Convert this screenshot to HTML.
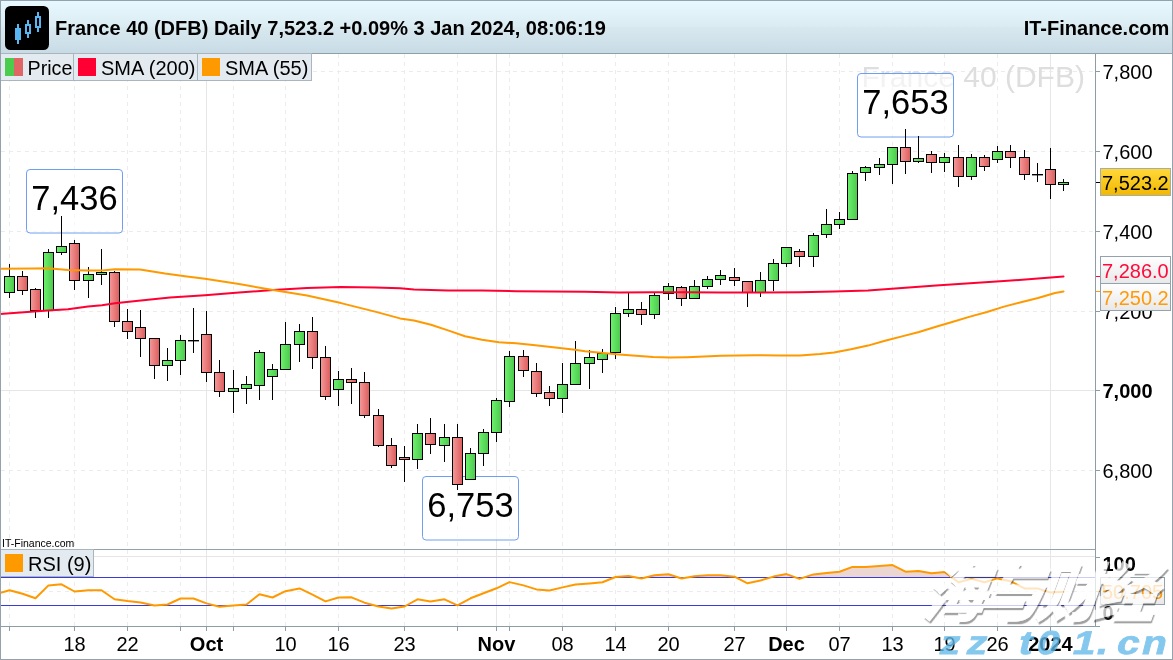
<!DOCTYPE html>
<html><head><meta charset="utf-8"><title>France 40 (DFB) Daily</title>
<style>html,body{margin:0;padding:0;background:#fff}svg{display:block}</style></head>
<body>
<svg width="1173" height="660" viewBox="0 0 1173 660" font-family="Liberation Sans, Arial, sans-serif">
<defs>
<linearGradient id="hd" x1="0" y1="0" x2="0" y2="1"><stop offset="0" stop-color="#e8f9ff"/><stop offset="0.5" stop-color="#dbebf2"/><stop offset="0.52" stop-color="#d8e8ef"/><stop offset="1" stop-color="#c8dbe5"/></linearGradient>
<linearGradient id="gg" x1="0" y1="0" x2="1" y2="0"><stop offset="0" stop-color="#6ef26e"/><stop offset="1" stop-color="#4cc84c"/></linearGradient>
<linearGradient id="rg" x1="0" y1="0" x2="1" y2="0"><stop offset="0" stop-color="#f59a9a"/><stop offset="1" stop-color="#dc5c5c"/></linearGradient>
<linearGradient id="yl" x1="0" y1="0" x2="0" y2="1"><stop offset="0" stop-color="#ffd83a"/><stop offset="1" stop-color="#f2b800"/></linearGradient>
<linearGradient id="tg" x1="0" y1="0" x2="0" y2="1"><stop offset="0" stop-color="#ffffff"/><stop offset="1" stop-color="#e8e8e8"/></linearGradient>
<clipPath id="over"><rect x="0" y="550" width="1095" height="27.5"/></clipPath>
<filter id="sh" x="-10%" y="-10%" width="130%" height="130%"><feGaussianBlur stdDeviation="0.6"/></filter>
</defs>
<rect x="0" y="0" width="1173" height="660" fill="#ffffff"/>
<line x1="9.5" y1="54" x2="9.5" y2="626" stroke="#ececec" stroke-width="1" stroke-dasharray="4 4"/>
<line x1="74.5" y1="54" x2="74.5" y2="626" stroke="#ececec" stroke-width="1" stroke-dasharray="4 4"/>
<line x1="127.5" y1="54" x2="127.5" y2="626" stroke="#ececec" stroke-width="1" stroke-dasharray="4 4"/>
<line x1="180.5" y1="54" x2="180.5" y2="626" stroke="#ececec" stroke-width="1" stroke-dasharray="4 4"/>
<line x1="233.5" y1="54" x2="233.5" y2="626" stroke="#ececec" stroke-width="1" stroke-dasharray="4 4"/>
<line x1="285.5" y1="54" x2="285.5" y2="626" stroke="#ececec" stroke-width="1" stroke-dasharray="4 4"/>
<line x1="338.5" y1="54" x2="338.5" y2="626" stroke="#ececec" stroke-width="1" stroke-dasharray="4 4"/>
<line x1="404.5" y1="54" x2="404.5" y2="626" stroke="#ececec" stroke-width="1" stroke-dasharray="4 4"/>
<line x1="457.5" y1="54" x2="457.5" y2="626" stroke="#ececec" stroke-width="1" stroke-dasharray="4 4"/>
<line x1="509.5" y1="54" x2="509.5" y2="626" stroke="#ececec" stroke-width="1" stroke-dasharray="4 4"/>
<line x1="562.5" y1="54" x2="562.5" y2="626" stroke="#ececec" stroke-width="1" stroke-dasharray="4 4"/>
<line x1="615.5" y1="54" x2="615.5" y2="626" stroke="#ececec" stroke-width="1" stroke-dasharray="4 4"/>
<line x1="668.5" y1="54" x2="668.5" y2="626" stroke="#ececec" stroke-width="1" stroke-dasharray="4 4"/>
<line x1="734.5" y1="54" x2="734.5" y2="626" stroke="#ececec" stroke-width="1" stroke-dasharray="4 4"/>
<line x1="839.5" y1="54" x2="839.5" y2="626" stroke="#ececec" stroke-width="1" stroke-dasharray="4 4"/>
<line x1="892.5" y1="54" x2="892.5" y2="626" stroke="#ececec" stroke-width="1" stroke-dasharray="4 4"/>
<line x1="944.5" y1="54" x2="944.5" y2="626" stroke="#ececec" stroke-width="1" stroke-dasharray="4 4"/>
<line x1="997.5" y1="54" x2="997.5" y2="626" stroke="#ececec" stroke-width="1" stroke-dasharray="4 4"/>
<line x1="206.5" y1="53" x2="206.5" y2="626" stroke="#e6e6e6" stroke-width="1"/>
<line x1="496.5" y1="53" x2="496.5" y2="626" stroke="#e6e6e6" stroke-width="1"/>
<line x1="786.5" y1="53" x2="786.5" y2="626" stroke="#e6e6e6" stroke-width="1"/>
<line x1="1050.5" y1="53" x2="1050.5" y2="626" stroke="#e6e6e6" stroke-width="1"/>
<line x1="1" y1="71.5" x2="1095" y2="71.5" stroke="#ececec" stroke-width="1" stroke-dasharray="4 4"/>
<line x1="1" y1="151.5" x2="1095" y2="151.5" stroke="#ececec" stroke-width="1" stroke-dasharray="4 4"/>
<line x1="1" y1="231.5" x2="1095" y2="231.5" stroke="#ececec" stroke-width="1" stroke-dasharray="4 4"/>
<line x1="1" y1="311.5" x2="1095" y2="311.5" stroke="#ececec" stroke-width="1" stroke-dasharray="4 4"/>
<line x1="1" y1="390.5" x2="1095" y2="390.5" stroke="#e6e6e6" stroke-width="1"/>
<line x1="1" y1="470.5" x2="1095" y2="470.5" stroke="#ececec" stroke-width="1" stroke-dasharray="4 4"/>
<line x1="1" y1="556.5" x2="1095" y2="556.5" stroke="#e6e6e6" stroke-width="1"/>
<line x1="1" y1="591.5" x2="1095" y2="591.5" stroke="#ececec" stroke-width="1" stroke-dasharray="4 4"/>
<text x="861.5" y="87" font-size="30" fill="#dedede">France 40 (DFB)</text>
<rect x="26.5" y="169.5" width="96" height="63.5" rx="3.5" fill="#ffffff" fill-opacity="0.6" stroke="#6f9ff2" stroke-width="1"/>
<text x="74.5" y="209.5" font-size="34.5" text-anchor="middle" fill="#000">7,436</text>
<rect x="857.5" y="73.5" width="96" height="63.5" rx="3.5" fill="#ffffff" fill-opacity="0.6" stroke="#6f9ff2" stroke-width="1"/>
<text x="905.5" y="113.5" font-size="34.5" text-anchor="middle" fill="#000">7,653</text>
<rect x="422.5" y="476.5" width="96" height="63.5" rx="3.5" fill="#ffffff" fill-opacity="0.6" stroke="#6f9ff2" stroke-width="1"/>
<text x="470.5" y="516.5" font-size="34.5" text-anchor="middle" fill="#000">6,753</text>
<rect x="9" y="264" width="1" height="34" fill="#000"/>
<rect x="4.5" y="276.5" width="10" height="16" fill="url(#gg)" stroke="#000" stroke-width="1"/>
<rect x="22" y="271" width="1" height="24" fill="#000"/>
<rect x="17.5" y="276.5" width="10" height="14" fill="url(#rg)" stroke="#000" stroke-width="1"/>
<rect x="35" y="288" width="1" height="30" fill="#000"/>
<rect x="30.5" y="289.5" width="10" height="21" fill="url(#rg)" stroke="#000" stroke-width="1"/>
<rect x="48" y="249" width="1" height="69" fill="#000"/>
<rect x="43.5" y="252.5" width="10" height="58" fill="url(#gg)" stroke="#000" stroke-width="1"/>
<rect x="61" y="216" width="1" height="39" fill="#000"/>
<rect x="56.5" y="246.5" width="10" height="6" fill="url(#gg)" stroke="#000" stroke-width="1"/>
<rect x="74" y="240" width="1" height="50" fill="#000"/>
<rect x="69.5" y="243.5" width="10" height="37" fill="url(#rg)" stroke="#000" stroke-width="1"/>
<rect x="88" y="267" width="1" height="31" fill="#000"/>
<rect x="83.5" y="274.5" width="10" height="6" fill="url(#gg)" stroke="#000" stroke-width="1"/>
<rect x="101" y="249" width="1" height="36" fill="#000"/>
<rect x="96.5" y="272.5" width="10" height="2" fill="url(#gg)" stroke="#000" stroke-width="1"/>
<rect x="114" y="271" width="1" height="56" fill="#000"/>
<rect x="109.5" y="272.5" width="10" height="49" fill="url(#rg)" stroke="#000" stroke-width="1"/>
<rect x="127" y="309" width="1" height="30" fill="#000"/>
<rect x="122.5" y="321.5" width="10" height="10" fill="url(#rg)" stroke="#000" stroke-width="1"/>
<rect x="140" y="310" width="1" height="47" fill="#000"/>
<rect x="135.5" y="327.5" width="10" height="11" fill="url(#rg)" stroke="#000" stroke-width="1"/>
<rect x="154" y="338" width="1" height="41" fill="#000"/>
<rect x="149.5" y="338.5" width="10" height="27" fill="url(#rg)" stroke="#000" stroke-width="1"/>
<rect x="167" y="348" width="1" height="33" fill="#000"/>
<rect x="162.5" y="360.5" width="10" height="5" fill="url(#gg)" stroke="#000" stroke-width="1"/>
<rect x="180" y="335" width="1" height="40" fill="#000"/>
<rect x="175.5" y="340.5" width="10" height="20" fill="url(#gg)" stroke="#000" stroke-width="1"/>
<rect x="193" y="308" width="1" height="45" fill="#000"/>
<rect x="188" y="340" width="11" height="1.4" fill="#000"/>
<rect x="206" y="311" width="1" height="71" fill="#000"/>
<rect x="201.5" y="334.5" width="10" height="38" fill="url(#rg)" stroke="#000" stroke-width="1"/>
<rect x="219" y="360" width="1" height="37" fill="#000"/>
<rect x="214.5" y="372.5" width="10" height="19" fill="url(#rg)" stroke="#000" stroke-width="1"/>
<rect x="233" y="370" width="1" height="43" fill="#000"/>
<rect x="228.5" y="388.5" width="10" height="3" fill="url(#gg)" stroke="#000" stroke-width="1"/>
<rect x="246" y="376" width="1" height="28" fill="#000"/>
<rect x="241.5" y="384.5" width="10" height="4" fill="url(#gg)" stroke="#000" stroke-width="1"/>
<rect x="259" y="350" width="1" height="50" fill="#000"/>
<rect x="254.5" y="352.5" width="10" height="33" fill="url(#gg)" stroke="#000" stroke-width="1"/>
<rect x="272" y="364" width="1" height="36" fill="#000"/>
<rect x="267.5" y="369.5" width="10" height="7" fill="url(#gg)" stroke="#000" stroke-width="1"/>
<rect x="285" y="322" width="1" height="48" fill="#000"/>
<rect x="280.5" y="344.5" width="10" height="25" fill="url(#gg)" stroke="#000" stroke-width="1"/>
<rect x="299" y="324" width="1" height="38" fill="#000"/>
<rect x="294.5" y="331.5" width="10" height="13" fill="url(#gg)" stroke="#000" stroke-width="1"/>
<rect x="312" y="317" width="1" height="52" fill="#000"/>
<rect x="307.5" y="331.5" width="10" height="26" fill="url(#rg)" stroke="#000" stroke-width="1"/>
<rect x="325" y="346" width="1" height="54" fill="#000"/>
<rect x="320.5" y="357.5" width="10" height="39" fill="url(#rg)" stroke="#000" stroke-width="1"/>
<rect x="338" y="371" width="1" height="35" fill="#000"/>
<rect x="333.5" y="379.5" width="10" height="10" fill="url(#gg)" stroke="#000" stroke-width="1"/>
<rect x="351" y="368" width="1" height="36" fill="#000"/>
<rect x="346.5" y="379.5" width="10" height="3" fill="url(#rg)" stroke="#000" stroke-width="1"/>
<rect x="364" y="372" width="1" height="46" fill="#000"/>
<rect x="359.5" y="382.5" width="10" height="33" fill="url(#rg)" stroke="#000" stroke-width="1"/>
<rect x="378" y="409" width="1" height="38" fill="#000"/>
<rect x="373.5" y="415.5" width="10" height="30" fill="url(#rg)" stroke="#000" stroke-width="1"/>
<rect x="391" y="438" width="1" height="30" fill="#000"/>
<rect x="386.5" y="445.5" width="10" height="20" fill="url(#rg)" stroke="#000" stroke-width="1"/>
<rect x="404" y="446" width="1" height="36" fill="#000"/>
<rect x="399.5" y="457.5" width="10" height="2" fill="url(#rg)" stroke="#000" stroke-width="1"/>
<rect x="417" y="424" width="1" height="45" fill="#000"/>
<rect x="412.5" y="433.5" width="10" height="26" fill="url(#gg)" stroke="#000" stroke-width="1"/>
<rect x="430" y="418" width="1" height="36" fill="#000"/>
<rect x="425.5" y="433.5" width="10" height="11" fill="url(#rg)" stroke="#000" stroke-width="1"/>
<rect x="444" y="424" width="1" height="38" fill="#000"/>
<rect x="439.5" y="437.5" width="10" height="8" fill="url(#gg)" stroke="#000" stroke-width="1"/>
<rect x="457" y="424" width="1" height="66" fill="#000"/>
<rect x="452.5" y="437.5" width="10" height="47" fill="url(#rg)" stroke="#000" stroke-width="1"/>
<rect x="470" y="448" width="1" height="32" fill="#000"/>
<rect x="465.5" y="453.5" width="10" height="26" fill="url(#gg)" stroke="#000" stroke-width="1"/>
<rect x="483" y="429" width="1" height="37" fill="#000"/>
<rect x="478.5" y="432.5" width="10" height="21" fill="url(#gg)" stroke="#000" stroke-width="1"/>
<rect x="496" y="398" width="1" height="44" fill="#000"/>
<rect x="491.5" y="400.5" width="10" height="32" fill="url(#gg)" stroke="#000" stroke-width="1"/>
<rect x="509" y="351" width="1" height="56" fill="#000"/>
<rect x="504.5" y="356.5" width="10" height="45" fill="url(#gg)" stroke="#000" stroke-width="1"/>
<rect x="523" y="350" width="1" height="27" fill="#000"/>
<rect x="518.5" y="356.5" width="10" height="14" fill="url(#rg)" stroke="#000" stroke-width="1"/>
<rect x="536" y="363" width="1" height="34" fill="#000"/>
<rect x="531.5" y="371.5" width="10" height="22" fill="url(#rg)" stroke="#000" stroke-width="1"/>
<rect x="549" y="386" width="1" height="20" fill="#000"/>
<rect x="544.5" y="392.5" width="10" height="6" fill="url(#rg)" stroke="#000" stroke-width="1"/>
<rect x="562" y="363" width="1" height="50" fill="#000"/>
<rect x="557.5" y="384.5" width="10" height="14" fill="url(#gg)" stroke="#000" stroke-width="1"/>
<rect x="575" y="341" width="1" height="44" fill="#000"/>
<rect x="570.5" y="363.5" width="10" height="21" fill="url(#gg)" stroke="#000" stroke-width="1"/>
<rect x="589" y="350" width="1" height="39" fill="#000"/>
<rect x="584.5" y="357.5" width="10" height="6" fill="url(#gg)" stroke="#000" stroke-width="1"/>
<rect x="602" y="349" width="1" height="24" fill="#000"/>
<rect x="597.5" y="353.5" width="10" height="6" fill="url(#gg)" stroke="#000" stroke-width="1"/>
<rect x="615" y="307" width="1" height="52" fill="#000"/>
<rect x="610.5" y="313.5" width="10" height="39" fill="url(#gg)" stroke="#000" stroke-width="1"/>
<rect x="628" y="292" width="1" height="25" fill="#000"/>
<rect x="623.5" y="309.5" width="10" height="4" fill="url(#gg)" stroke="#000" stroke-width="1"/>
<rect x="641" y="302" width="1" height="23" fill="#000"/>
<rect x="636.5" y="309.5" width="10" height="5" fill="url(#rg)" stroke="#000" stroke-width="1"/>
<rect x="654" y="292" width="1" height="27" fill="#000"/>
<rect x="649.5" y="295.5" width="10" height="19" fill="url(#gg)" stroke="#000" stroke-width="1"/>
<rect x="668" y="283" width="1" height="17" fill="#000"/>
<rect x="663.5" y="286.5" width="10" height="7" fill="url(#gg)" stroke="#000" stroke-width="1"/>
<rect x="681" y="286" width="1" height="20" fill="#000"/>
<rect x="676.5" y="287.5" width="10" height="11" fill="url(#rg)" stroke="#000" stroke-width="1"/>
<rect x="694" y="280" width="1" height="19" fill="#000"/>
<rect x="689.5" y="286.5" width="10" height="12" fill="url(#gg)" stroke="#000" stroke-width="1"/>
<rect x="707" y="276" width="1" height="13" fill="#000"/>
<rect x="702.5" y="279.5" width="10" height="7" fill="url(#gg)" stroke="#000" stroke-width="1"/>
<rect x="720" y="270" width="1" height="15" fill="#000"/>
<rect x="715.5" y="275.5" width="10" height="4" fill="url(#gg)" stroke="#000" stroke-width="1"/>
<rect x="734" y="268" width="1" height="18" fill="#000"/>
<rect x="729.5" y="277.5" width="10" height="3" fill="url(#rg)" stroke="#000" stroke-width="1"/>
<rect x="747" y="281" width="1" height="26" fill="#000"/>
<rect x="742.5" y="281.5" width="10" height="11" fill="url(#rg)" stroke="#000" stroke-width="1"/>
<rect x="760" y="272" width="1" height="25" fill="#000"/>
<rect x="755.5" y="280.5" width="10" height="12" fill="url(#gg)" stroke="#000" stroke-width="1"/>
<rect x="773" y="259" width="1" height="32" fill="#000"/>
<rect x="768.5" y="263.5" width="10" height="17" fill="url(#gg)" stroke="#000" stroke-width="1"/>
<rect x="786" y="247" width="1" height="20" fill="#000"/>
<rect x="781.5" y="247.5" width="10" height="16" fill="url(#gg)" stroke="#000" stroke-width="1"/>
<rect x="799" y="249" width="1" height="18" fill="#000"/>
<rect x="794.5" y="251.5" width="10" height="5" fill="url(#rg)" stroke="#000" stroke-width="1"/>
<rect x="813" y="233" width="1" height="34" fill="#000"/>
<rect x="808.5" y="235.5" width="10" height="21" fill="url(#gg)" stroke="#000" stroke-width="1"/>
<rect x="826" y="209" width="1" height="29" fill="#000"/>
<rect x="821.5" y="224.5" width="10" height="10" fill="url(#gg)" stroke="#000" stroke-width="1"/>
<rect x="839" y="212" width="1" height="17" fill="#000"/>
<rect x="834.5" y="219.5" width="10" height="5" fill="url(#gg)" stroke="#000" stroke-width="1"/>
<rect x="852" y="171" width="1" height="49" fill="#000"/>
<rect x="847.5" y="173.5" width="10" height="46" fill="url(#gg)" stroke="#000" stroke-width="1"/>
<rect x="865" y="166" width="1" height="15" fill="#000"/>
<rect x="860.5" y="167.5" width="10" height="5" fill="url(#gg)" stroke="#000" stroke-width="1"/>
<rect x="879" y="158" width="1" height="17" fill="#000"/>
<rect x="874.5" y="164.5" width="10" height="3" fill="url(#gg)" stroke="#000" stroke-width="1"/>
<rect x="892" y="147" width="1" height="37" fill="#000"/>
<rect x="887.5" y="147.5" width="10" height="17" fill="url(#gg)" stroke="#000" stroke-width="1"/>
<rect x="905" y="129" width="1" height="45" fill="#000"/>
<rect x="900.5" y="147.5" width="10" height="14" fill="url(#rg)" stroke="#000" stroke-width="1"/>
<rect x="918" y="136" width="1" height="27" fill="#000"/>
<rect x="913.5" y="158.5" width="10" height="3" fill="url(#gg)" stroke="#000" stroke-width="1"/>
<rect x="931" y="151" width="1" height="22" fill="#000"/>
<rect x="926.5" y="154.5" width="10" height="8" fill="url(#rg)" stroke="#000" stroke-width="1"/>
<rect x="944" y="153" width="1" height="19" fill="#000"/>
<rect x="939.5" y="157.5" width="10" height="5" fill="url(#gg)" stroke="#000" stroke-width="1"/>
<rect x="958" y="145" width="1" height="42" fill="#000"/>
<rect x="953.5" y="157.5" width="10" height="19" fill="url(#rg)" stroke="#000" stroke-width="1"/>
<rect x="971" y="154" width="1" height="26" fill="#000"/>
<rect x="966.5" y="157.5" width="10" height="19" fill="url(#gg)" stroke="#000" stroke-width="1"/>
<rect x="984" y="155" width="1" height="16" fill="#000"/>
<rect x="979.5" y="157.5" width="10" height="9" fill="url(#rg)" stroke="#000" stroke-width="1"/>
<rect x="997" y="146" width="1" height="17" fill="#000"/>
<rect x="992.5" y="151.5" width="10" height="8" fill="url(#gg)" stroke="#000" stroke-width="1"/>
<rect x="1010" y="145" width="1" height="23" fill="#000"/>
<rect x="1005.5" y="151.5" width="10" height="6" fill="url(#rg)" stroke="#000" stroke-width="1"/>
<rect x="1024" y="150" width="1" height="30" fill="#000"/>
<rect x="1019.5" y="157.5" width="10" height="17" fill="url(#rg)" stroke="#000" stroke-width="1"/>
<rect x="1037" y="163" width="1" height="19" fill="#000"/>
<rect x="1032" y="174" width="11" height="1.4" fill="#000"/>
<rect x="1050" y="148" width="1" height="51" fill="#000"/>
<rect x="1045.5" y="169.5" width="10" height="15" fill="url(#rg)" stroke="#000" stroke-width="1"/>
<rect x="1063" y="179" width="1" height="12" fill="#000"/>
<rect x="1058.5" y="182.5" width="10" height="2" fill="url(#gg)" stroke="#000" stroke-width="1"/>
<path d="M0.0,314.0 L34.0,311.6 L48.0,310.5 L68.0,309.2 L88.0,306.4 L102.0,305.3 L115.0,303.3 L136.0,301.0 L170.0,297.6 L205.0,295.3 L239.0,292.6 L273.0,290.1 L307.0,288.1 L341.0,287.1 L375.0,287.4 L400.0,288.2 L414.0,289.4 L448.0,290.4 L482.0,290.5 L516.0,291.2 L551.0,291.5 L585.0,291.8 L619.0,292.4 L653.0,292.2 L687.0,292.2 L721.0,292.6 L755.0,292.5 L800.0,292.2 L834.0,291.4 L868.0,290.4 L902.0,288.0 L936.0,285.6 L970.0,283.2 L1004.0,281.1 L1038.0,278.4 L1063.5,276.4" fill="none" stroke="#ff0033" stroke-width="2" stroke-linejoin="round" stroke-linecap="round"/>
<path d="M0.0,268.7 L34.0,268.5 L48.0,268.2 L68.0,270.0 L88.0,270.6 L102.0,270.6 L115.0,269.2 L140.0,269.4 L165.0,273.5 L185.0,276.3 L205.0,278.8 L239.0,284.0 L273.0,290.1 L307.0,295.6 L341.0,303.1 L375.0,311.6 L400.0,318.4 L414.0,320.5 L431.0,324.8 L448.0,330.4 L465.0,336.2 L482.0,339.8 L499.0,342.3 L516.0,343.2 L533.0,344.9 L551.0,347.1 L575.0,349.8 L585.0,351.2 L619.0,354.4 L653.0,357.0 L670.0,357.6 L687.0,357.2 L721.0,355.7 L755.0,355.3 L780.0,355.4 L800.0,355.5 L820.0,354.1 L834.0,352.4 L851.0,349.3 L868.0,345.6 L885.0,340.8 L902.0,336.4 L919.0,332.0 L936.0,326.8 L953.0,321.7 L970.0,316.6 L987.0,312.0 L1004.0,306.6 L1021.0,302.3 L1038.0,298.0 L1055.0,293.0 L1063.5,291.4" fill="none" stroke="#ff9900" stroke-width="2" stroke-linejoin="round" stroke-linecap="round"/>
<line x1="1" y1="549.5" x2="1095" y2="549.5" stroke="#93a3ad" stroke-width="1"/>
<path d="M-4.0,594.2 L9.5,590.3 L22.5,593.7 L35.5,598.3 L48.5,585.4 L61.5,584.3 L74.5,591.5 L88.5,590.3 L101.5,590.3 L114.5,599.3 L127.5,601.0 L140.5,602.4 L154.5,605.5 L167.5,604.5 L180.5,598.5 L193.5,598.5 L206.5,603.4 L219.5,606.8 L233.5,605.5 L246.5,604.5 L259.5,594.2 L272.5,597.5 L285.5,591.2 L299.5,588.4 L312.5,594.7 L325.5,601.4 L338.5,597.5 L351.5,597.3 L364.5,602.7 L378.5,606.5 L391.5,608.5 L404.5,606.5 L417.5,599.3 L430.5,601.4 L444.5,599.3 L457.5,605.3 L470.5,598.3 L483.5,593.2 L496.5,588.3 L509.5,582.1 L523.5,585.4 L536.5,589.4 L549.5,590.5 L562.5,587.4 L575.5,584.5 L589.5,583.5 L602.5,582.3 L615.5,577.0 L628.5,576.1 L641.5,578.5 L654.5,575.3 L668.5,574.3 L681.5,578.5 L694.5,576.3 L707.5,575.3 L720.5,575.3 L734.5,576.7 L747.5,583.3 L760.5,580.5 L773.5,576.6 L786.5,574.1 L799.5,578.9 L813.5,574.4 L826.5,572.9 L839.5,571.7 L852.5,566.9 L865.5,566.9 L879.5,566.1 L892.5,565.1 L905.5,571.7 L918.5,570.9 L931.5,573.3 L944.5,571.9 L958.5,582.2 L971.5,578.9 L984.5,582.2 L997.5,578.4 L1010.5,581.2 L1024.5,588.4 L1037.5,588.4 L1050.5,592.6 L1063.5,591.7 L1063.5,577.5 L-4,577.5 Z" fill="#ecd6d2" clip-path="url(#over)"/>
<line x1="1" y1="577.5" x2="1095" y2="577.5" stroke="#3a3ad6" stroke-width="1"/>
<line x1="1" y1="605.5" x2="1095" y2="605.5" stroke="#3a3ad6" stroke-width="1"/>
<path d="M-4.0,594.2 L9.5,590.3 L22.5,593.7 L35.5,598.3 L48.5,585.4 L61.5,584.3 L74.5,591.5 L88.5,590.3 L101.5,590.3 L114.5,599.3 L127.5,601.0 L140.5,602.4 L154.5,605.5 L167.5,604.5 L180.5,598.5 L193.5,598.5 L206.5,603.4 L219.5,606.8 L233.5,605.5 L246.5,604.5 L259.5,594.2 L272.5,597.5 L285.5,591.2 L299.5,588.4 L312.5,594.7 L325.5,601.4 L338.5,597.5 L351.5,597.3 L364.5,602.7 L378.5,606.5 L391.5,608.5 L404.5,606.5 L417.5,599.3 L430.5,601.4 L444.5,599.3 L457.5,605.3 L470.5,598.3 L483.5,593.2 L496.5,588.3 L509.5,582.1 L523.5,585.4 L536.5,589.4 L549.5,590.5 L562.5,587.4 L575.5,584.5 L589.5,583.5 L602.5,582.3 L615.5,577.0 L628.5,576.1 L641.5,578.5 L654.5,575.3 L668.5,574.3 L681.5,578.5 L694.5,576.3 L707.5,575.3 L720.5,575.3 L734.5,576.7 L747.5,583.3 L760.5,580.5 L773.5,576.6 L786.5,574.1 L799.5,578.9 L813.5,574.4 L826.5,572.9 L839.5,571.7 L852.5,566.9 L865.5,566.9 L879.5,566.1 L892.5,565.1 L905.5,571.7 L918.5,570.9 L931.5,573.3 L944.5,571.9 L958.5,582.2 L971.5,578.9 L984.5,582.2 L997.5,578.4 L1010.5,581.2 L1024.5,588.4 L1037.5,588.4 L1050.5,592.6 L1063.5,591.7" fill="none" stroke="#ff9900" stroke-width="2" stroke-linejoin="round" stroke-linecap="round"/>
<line x1="1095.5" y1="53" x2="1095.5" y2="626" stroke="#8d9da7" stroke-width="1"/>
<line x1="1" y1="626.5" x2="1100" y2="626.5" stroke="#8d9da7" stroke-width="1"/>
<rect x="9" y="627" width="1" height="4" fill="#8d9da7"/>
<rect x="74" y="627" width="1" height="4" fill="#8d9da7"/>
<rect x="127" y="627" width="1" height="4" fill="#8d9da7"/>
<rect x="180" y="627" width="1" height="4" fill="#8d9da7"/>
<rect x="233" y="627" width="1" height="4" fill="#8d9da7"/>
<rect x="285" y="627" width="1" height="4" fill="#8d9da7"/>
<rect x="338" y="627" width="1" height="4" fill="#8d9da7"/>
<rect x="404" y="627" width="1" height="4" fill="#8d9da7"/>
<rect x="457" y="627" width="1" height="4" fill="#8d9da7"/>
<rect x="509" y="627" width="1" height="4" fill="#8d9da7"/>
<rect x="562" y="627" width="1" height="4" fill="#8d9da7"/>
<rect x="615" y="627" width="1" height="4" fill="#8d9da7"/>
<rect x="668" y="627" width="1" height="4" fill="#8d9da7"/>
<rect x="734" y="627" width="1" height="4" fill="#8d9da7"/>
<rect x="839" y="627" width="1" height="4" fill="#8d9da7"/>
<rect x="892" y="627" width="1" height="4" fill="#8d9da7"/>
<rect x="944" y="627" width="1" height="4" fill="#8d9da7"/>
<rect x="997" y="627" width="1" height="4" fill="#8d9da7"/>
<rect x="206" y="627" width="1" height="4" fill="#8d9da7"/>
<rect x="496" y="627" width="1" height="4" fill="#8d9da7"/>
<rect x="786" y="627" width="1" height="4" fill="#8d9da7"/>
<rect x="1050" y="627" width="1" height="4" fill="#8d9da7"/>
<rect x="1096" y="71.0" width="4" height="1" fill="#8d9da7"/>
<text x="1102.5" y="78.5" font-size="20" font-weight="normal" fill="#000">7,800</text>
<rect x="1096" y="151.0" width="4" height="1" fill="#8d9da7"/>
<text x="1102.5" y="158.5" font-size="20" font-weight="normal" fill="#000">7,600</text>
<rect x="1096" y="231.0" width="4" height="1" fill="#8d9da7"/>
<text x="1102.5" y="238.5" font-size="20" font-weight="normal" fill="#000">7,400</text>
<rect x="1096" y="311.0" width="4" height="1" fill="#8d9da7"/>
<text x="1102.5" y="318.5" font-size="20" font-weight="normal" fill="#000">7,200</text>
<rect x="1096" y="390.0" width="4" height="1" fill="#8d9da7"/>
<text x="1102.5" y="397.5" font-size="20" font-weight="bold" fill="#000">7,000</text>
<rect x="1096" y="470.0" width="4" height="1" fill="#8d9da7"/>
<text x="1102.5" y="477.5" font-size="20" font-weight="normal" fill="#000">6,800</text>
<rect x="1096" y="557" width="4" height="1" fill="#8d9da7"/>
<text x="1102.5" y="571" font-size="20" font-weight="bold" fill="#000">100</text>
<text x="1102.5" y="620" font-size="20" font-weight="bold" fill="#000">0</text>
<text x="74.5" y="650.6" font-size="20" text-anchor="middle" font-weight="normal" fill="#000">18</text>
<text x="127.5" y="650.6" font-size="20" text-anchor="middle" font-weight="normal" fill="#000">22</text>
<text x="206.5" y="650.6" font-size="20" text-anchor="middle" font-weight="bold" fill="#000">Oct</text>
<text x="285.5" y="650.6" font-size="20" text-anchor="middle" font-weight="normal" fill="#000">10</text>
<text x="338.5" y="650.6" font-size="20" text-anchor="middle" font-weight="normal" fill="#000">16</text>
<text x="404.5" y="650.6" font-size="20" text-anchor="middle" font-weight="normal" fill="#000">23</text>
<text x="496.5" y="650.6" font-size="20" text-anchor="middle" font-weight="bold" fill="#000">Nov</text>
<text x="562.5" y="650.6" font-size="20" text-anchor="middle" font-weight="normal" fill="#000">08</text>
<text x="615.5" y="650.6" font-size="20" text-anchor="middle" font-weight="normal" fill="#000">14</text>
<text x="668.5" y="650.6" font-size="20" text-anchor="middle" font-weight="normal" fill="#000">20</text>
<text x="734.5" y="650.6" font-size="20" text-anchor="middle" font-weight="normal" fill="#000">27</text>
<text x="786.5" y="650.6" font-size="20" text-anchor="middle" font-weight="bold" fill="#000">Dec</text>
<text x="839.5" y="650.6" font-size="20" text-anchor="middle" font-weight="normal" fill="#000">07</text>
<text x="892.5" y="650.6" font-size="20" text-anchor="middle" font-weight="normal" fill="#000">13</text>
<text x="944.5" y="650.6" font-size="20" text-anchor="middle" font-weight="normal" fill="#000">19</text>
<text x="997.5" y="650.6" font-size="20" text-anchor="middle" font-weight="normal" fill="#000">26</text>
<text x="1050.5" y="650.6" font-size="20" text-anchor="middle" font-weight="bold" fill="#000">2024</text>
<rect x="1100.5" y="168.5" width="70" height="27" fill="url(#yl)" stroke="#a3adb0" stroke-width="1"/>
<text x="1102" y="190" font-size="20" fill="#000">7,523.2</text>
<rect x="1096" y="182" width="4" height="1" fill="#000"/>
<rect x="1100.5" y="256.5" width="70" height="27" fill="url(#tg)" stroke="#93a2ac" stroke-width="1"/>
<text x="1102" y="277.8" font-size="20" fill="#ff0a3c">7,286.0</text>
<rect x="1100.5" y="283.5" width="70" height="27" fill="url(#tg)" stroke="#93a2ac" stroke-width="1"/>
<text x="1102" y="304.8" font-size="20" fill="#ff9a0a">7,250.2</text>
<rect x="1096" y="276" width="4" height="1" fill="#ff0a3c"/>
<rect x="1096" y="291" width="4" height="1" fill="#ff9a0a"/>
<rect x="1100.5" y="577.5" width="64" height="27" fill="url(#tg)" stroke="#93a2ac" stroke-width="1"/>
<text x="1102" y="598.8" font-size="20" fill="#ff9a0a">50.705</text>
<rect x="1096" y="591" width="4" height="1" fill="#ff9a0a"/>
<rect x="0" y="0" width="1173" height="53" fill="url(#hd)"/>
<rect x="0" y="53" width="1173" height="1" fill="#8f9fa9"/>
<rect x="5" y="6" width="44" height="44" rx="5.5" fill="#000"/>
<rect x="15" y="28" width="6" height="12" fill="#5ab6f0"/><rect x="17" y="24" width="2" height="20" fill="#5ab6f0"/>
<rect x="26" y="25" width="4" height="8" fill="none" stroke="#5ab6f0" stroke-width="2"/><rect x="27" y="20" width="2" height="5" fill="#5ab6f0"/><rect x="27" y="33" width="2" height="5" fill="#5ab6f0"/>
<rect x="36" y="17" width="4" height="10" fill="none" stroke="#5ab6f0" stroke-width="2"/><rect x="37" y="12" width="2" height="5" fill="#5ab6f0"/><rect x="37" y="27" width="2" height="5" fill="#5ab6f0"/>
<text x="55" y="35.3" font-size="20" font-weight="bold" fill="#000">France 40 (DFB) Daily 7,523.2 +0.09% 3 Jan 2024, 08:06:19</text>
<text x="1169.3" y="35.3" font-size="20" font-weight="bold" text-anchor="end" fill="#000">IT-Finance.com</text>
<rect x="0.5" y="53.5" width="73" height="27" fill="#e3ebf0" stroke="#a9b6bf" stroke-width="1"/>
<rect x="73.5" y="53.5" width="124" height="27" fill="#e3ebf0" stroke="#a9b6bf" stroke-width="1"/>
<rect x="197.5" y="53.5" width="114" height="27" fill="#e3ebf0" stroke="#a9b6bf" stroke-width="1"/>
<rect x="5" y="58" width="9" height="18" fill="#4ccc4c"/><rect x="14" y="58" width="9" height="18" fill="#e06666"/>
<text x="27.6" y="74.5" font-size="20" fill="#000" textLength="44.8" lengthAdjust="spacingAndGlyphs">Price</text>
<rect x="78" y="58" width="18" height="18" fill="#ff0033"/>
<text x="101" y="74.5" font-size="20" fill="#000">SMA (200)</text>
<rect x="202" y="58" width="18" height="18" fill="#ff9900"/>
<text x="225" y="74.5" font-size="20" fill="#000">SMA (55)</text>
<rect x="0.5" y="549.5" width="93" height="27" fill="#e3ebf0" stroke="#a9b6bf" stroke-width="1"/>
<rect x="5" y="554" width="18" height="18" fill="#ff9900"/>
<text x="28" y="570.5" font-size="20" fill="#000">RSI (9)</text>
<text x="2" y="547" font-size="10.5" fill="#000">IT-Finance.com</text>
<g font-family="Liberation Sans, Noto Sans CJK SC, sans-serif" font-weight="900">
<g opacity="0.74"><g transform="translate(0,616) skewX(-20) translate(0,-616)" font-size="63">
<text x="920 977 1034 1091" y="616" fill="#333" fill-opacity="0.62" filter="url(#sh)" transform="translate(2.0,2.2)">海与财经</text>
<text x="920 977 1034 1091" y="616" fill="#ffffff" stroke="#ffffff" stroke-width="1">海与财经</text>
</g></g>
<g opacity="0.78" transform="translate(0,654) skewX(-14) scale(1.22,1) translate(0,-654)"><text x="768.9 791.0 833.6 848.4 877.9 897.5 913.9 934.4" y="654" font-size="33" font-weight="bold" fill="#62b9ea" stroke="#62b9ea" stroke-width="0.8">zzt01.cn</text></g>
</g>
<rect x="0.5" y="0.5" width="1172" height="659" fill="none" stroke="#93a2ac" stroke-width="1"/>
</svg>
</body></html>
